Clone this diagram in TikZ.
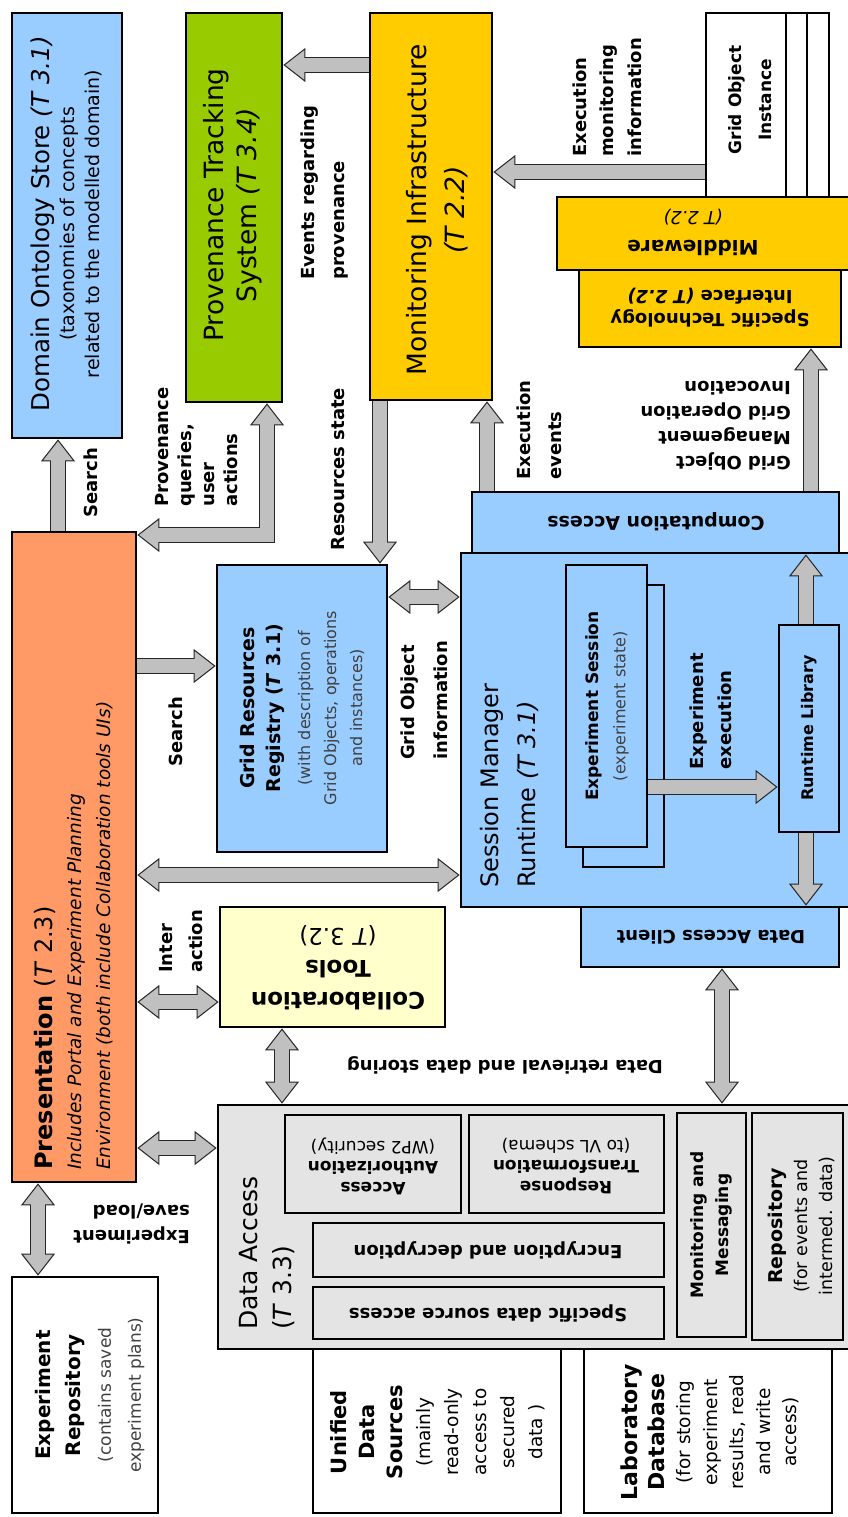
\documentclass[tikz,border=0pt]{standalone}
\usepackage{fontspec}
\setmainfont{DejaVu Sans}
\usetikzlibrary{arrows.meta}

\definecolor{skyblue}{HTML}{99CCFF}
\definecolor{leafgreen}{HTML}{99CC00}
\definecolor{gold}{HTML}{FFCC00}
\definecolor{salmon}{HTML}{FF9966}
\definecolor{cream}{HTML}{FFFFCC}
\definecolor{paleGray}{HTML}{E4E4E4}
\definecolor{arrowgray}{HTML}{C0C0C0}

\newcommand{\fsz}[2]{\fontsize{#1}{#2}\selectfont}
\newcommand{\onearrow}[1]{\draw[arrowrim,-bigtip] #1; \draw[arrowcore,shorten >=20pt] #1;}
\newcommand{\twoarrow}[1]{\draw[arrowrim,bigtip-bigtip] #1; \draw[arrowcore,shorten >=20pt,shorten <=20pt] #1;}

\tikzset{
  panel/.style={draw, line width=2.8pt, inner sep=0pt},
  riser/.style={rotate=90, inner sep=0pt},
  turned/.style={rotate=180, inner sep=0pt},
  arrowtag/.style={font=\bfseries\fsz{18}{#1}, align=left, inner sep=0pt},
  arrowtag/.default=26,
  arrowrim/.style={line width=16pt, draw=black!85, line join=miter},
  arrowcore/.style={line width=14pt, draw=arrowgray, line join=miter},
  bigtip/.tip={Triangle[width=34pt,length=22pt,line width=1pt,fill=arrowgray]}
}

\begin{document}
\begin{tikzpicture}[x=1pt,y=-1pt]
\useasboundingbox (0,0) rectangle (848,1517);
\fill[white] (0,0) rectangle (848,1517);

\node[panel,fill=skyblue,minimum width=110pt,minimum height=425pt] (dos) at (67,225.5) {};
\node[panel,fill=leafgreen,minimum width=96pt,minimum height=389pt] (pts) at (234,207.5) {};
\node[panel,fill=gold,minimum width=122pt,minimum height=387pt] (mon) at (431,206.5) {};
\node[panel,fill=white,minimum width=123pt,minimum height=184pt] (goi) at (767.5,105) {};
\draw[line width=2.8pt] (786,0 |- goi.north) -- (786,0 |- goi.south)
                        (807,0 |- goi.north) -- (807,0 |- goi.south);
\node[panel,fill=gold,minimum width=262pt,minimum height=77pt] (sti) at (710,308.5) {};
\node[panel,fill=gold,minimum width=294pt,minimum height=73pt] (mid) at (704,233.5) {};
\node[panel,fill=salmon,minimum width=124pt,minimum height=650pt] (pres) at (74,857) {};
\node[panel,fill=skyblue,minimum width=170pt,minimum height=287pt] (grr) at (302,708.5) {};
\node[panel,fill=cream,minimum width=225pt,minimum height=120pt] (collab) at (332.5,967) {};
\node[panel,fill=skyblue,minimum width=390pt,minimum height=354pt] (smr) at (656,730) {};
\node[panel,fill=skyblue,minimum width=367pt,minimum height=61pt] (ca) at (655.5,522.5) {};
\node[panel,fill=skyblue,minimum width=258pt,minimum height=60pt] (dac) at (710,937) {};
\node[panel,fill=skyblue,minimum width=81pt,minimum height=282pt] (es-back) at (623.5,726) {};
\node[panel,fill=skyblue,minimum width=81pt,minimum height=282pt] (es) at (606.5,706) {};
\node[panel,fill=skyblue,minimum width=60pt,minimum height=207pt] (rtl) at (809,728.5) {};
\node[panel,fill=paleGray,minimum width=633pt,minimum height=244pt] (da) at (534.5,1227) {};
\node[panel,fill=paleGray,minimum width=176pt,minimum height=98pt] (aa) at (373,1164) {};
\node[panel,fill=paleGray,minimum width=195pt,minimum height=98pt] (rt) at (566.5,1164) {};
\node[panel,fill=paleGray,minimum width=351pt,minimum height=54pt] (enc) at (488.5,1250) {};
\node[panel,fill=paleGray,minimum width=351pt,minimum height=52pt] (sdsa) at (488.5,1313) {};
\node[panel,fill=paleGray,minimum width=69pt,minimum height=224pt] (mm) at (711.5,1225) {};
\node[panel,fill=paleGray,minimum width=91pt,minimum height=227pt] (rep) at (797.5,1226.5) {};
\node[panel,fill=white,minimum width=146pt,minimum height=236pt] (er) at (85,1395) {};
\node[panel,fill=white,minimum width=248pt,minimum height=164pt] (uds) at (437,1431) {};
\node[panel,fill=white,minimum width=248pt,minimum height=164pt] (ldb) at (708,1431) {};

\node[riser,align=center,font=\fsz{19}{25}] (dos-t) at (66,224) {{\fsz{24.5}{27}Domain Ontology Store \textit{(T 3.1)}}\\(taxonomies of concepts\\related to the modelled domain)};
\node[riser,align=center,font=\fsz{26.5}{33}] (pts-t) at (233,205) {Provenance Tracking\\System \textit{(T 3.4)}};
\node[riser,align=center,font=\fsz{26.5}{38}] (mon-t) at (437,210) {Monitoring Infrastructure\\\textit{(T 2.2)}};
\node[riser,align=center,font=\bfseries\fsz{17}{30}] (goi-t) at (750,100) {Grid Object\\Instance};
\node[turned,align=center,font=\bfseries\fsz{20}{29}] (mid-t) at (693,232) {Middleware\\{\mdseries\itshape\fsz{18}{29}(T 2.2)}};
\node[turned,align=center,font=\bfseries\fsz{18}{23}] (sti-t) at (710,308) {Specific Technology\\Interface \textit{(T 2.2)}};
\node[riser,anchor=west,align=left,font=\itshape\fsz{18.5}{29}] (pres-t) at (74,1170) {{\upshape\bfseries\fsz{24}{29}Presentation {\mdseries(\textit{T} 2.3)}}\\Includes Portal and Experiment Planning\\Environment (both include Collaboration tools UIs)};
\node[riser,align=center,text=black!75,font=\fsz{16}{26}] (grr-t) at (302,708) {{\color{black}\bfseries\fsz{19}{27}Grid Resources}\\{\color{black}\bfseries\fsz{19}{27}Registry (\textit{T} 3.1)}\\[4pt](with description of\\Grid Objects, operations\\and instances)};
\node[turned,align=center,font=\bfseries\fsz{23}{32}] (collab-t) at (338,968) {Collaboration\\Tools\\{\mdseries(\textit{T} 3.2)}};
\node[riser,anchor=west,align=left,font=\fsz{24}{37}] (smr-t) at (509,888) {Session Manager\\Runtime \textit{(T 3.1)}};
\node[turned,font=\bfseries\fsz{19}{24}] (ca-t) at (656,522) {Computation Access};
\node[turned,font=\bfseries\fsz{18}{24}] (dac-t) at (711,937) {Data Access Client};
\node[riser,align=center,font=\fsz{16}{27}] (es-t) at (607,706) {{\bfseries\fsz{17}{27}Experiment Session}\\{\color{black!75}(experiment state)}};
\node[riser,font=\bfseries\fsz{16}{20}] (rtl-t) at (809,728) {Runtime Library};
\node[riser,anchor=west,align=left,font=\fsz{25}{34}] (da-t) at (267,1330) {Data Access\\(\textit{T} 3.3)};
\node[turned,align=center,font=\bfseries\fsz{17}{20.5}] (aa-t) at (373,1166) {Access\\Authorization\\{\mdseries(WP2 security)}};
\node[turned,align=center,font=\bfseries\fsz{17}{20.5}] (rt-t) at (566,1166) {Response\\Transformation\\{\mdseries(to VL schema)}};
\node[turned,font=\bfseries\fsz{18}{22}] (enc-t) at (488,1250) {Encryption and decryption};
\node[turned,font=\bfseries\fsz{18}{22}] (sdsa-t) at (488,1313) {Specific data source access};
\node[riser,align=center,font=\bfseries\fsz{17}{25}] (mm-t) at (711,1225) {Monitoring and\\Messaging};
\node[riser,align=center,font=\fsz{17.5}{25}] (rep-t) at (801,1226) {{\bfseries\fsz{19}{25}Repository}\\(for events and\\intermed. data)};
\node[riser,align=center,text=black!75,font=\fsz{17}{30}] (er-t) at (90,1395) {{\color{black}\bfseries\fsz{20}{30}Experiment}\\{\color{black}\bfseries\fsz{20}{30}Repository}\\(contains saved\\experiment plans)};
\node[riser,align=center,font=\fsz{18.5}{28}] (uds-t) at (438,1432) {{\bfseries\fsz{21}{28}Unified}\\{\bfseries\fsz{21}{28}Data}\\{\bfseries\fsz{21}{28}Sources}\\(mainly\\read-only\\access to\\secured\\data )};
\node[riser,align=center,font=\fsz{18.5}{26.5}] (ldb-t) at (710,1432) {{\bfseries\fsz{22}{28}Laboratory}\\{\bfseries\fsz{22}{28}Database}\\(for storing\\experiment\\results, read\\and write\\access)};

\node[riser,arrowtag] (search-a) at (91,483) {Search};
\node[riser,arrowtag=23,anchor=west] (provq) at (197,507) {Provenance\\queries,\\user\\actions};
\node[riser,arrowtag=30,anchor=west] (evprov) at (325,280) {Events regarding\\provenance};
\node[riser,arrowtag=27.5,anchor=west] (exmon) at (607,157) {Execution\\monitoring\\information};
\node[riser,arrowtag,anchor=west] (resst) at (338,551) {Resources state};
\node[riser,arrowtag=31,anchor=west] (exev) at (539,480) {Execution\\events};
\node[turned,arrowtag=25,anchor=west] (gomgmt) at (791,426) {Grid Object\\Management\\Grid Operation\\Invocation};
\node[riser,arrowtag] (search-b) at (176,732) {Search};
\node[riser,arrowtag=33,anchor=west] (goinfo) at (424,760) {Grid Object\\information};
\node[riser,arrowtag=30,anchor=west] (inter) at (181,973) {Inter\\action};
\node[riser,arrowtag=28,anchor=west] (exexec) at (711,770) {Experiment\\execution};
\node[turned,arrowtag] (retr) at (505,1065) {Data retrieval and data storing};
\node[turned,arrowtag=25,anchor=west] (saveload) at (190,1224) {Experiment\\save/load};

\onearrow{(58,0 |- pres.north) -- (58,0 |- dos.south)}
\twoarrow{(pres.east |- 0,535) -- (267,535) -- (267,0 |- pts.south)}
\onearrow{(mon.west |- 0,65) -- (pts.east |- 0,65)}
\onearrow{(goi.west |- 0,172) -- (mon.east |- 0,172)}
\onearrow{(380,0 |- mon.south) -- (380,0 |- grr.north)}
\onearrow{(487,0 |- ca.north) -- (487,0 |- mon.south)}
\onearrow{(811,0 |- ca.north) -- (811,0 |- sti.south)}
\onearrow{(pres.east |- 0,666) -- (grr.west |- 0,666)}
\twoarrow{(grr.east |- 0,597) -- (smr.west |- 0,597)}
\twoarrow{(pres.east |- 0,875) -- (smr.west |- 0,875)}
\twoarrow{(pres.east |- 0,1002) -- (collab.west |- 0,1002)}
\twoarrow{(282,0 |- collab.south) -- (282,0 |- da.north)}
\twoarrow{(722,0 |- dac.south) -- (722,0 |- da.north)}
\twoarrow{(pres.east |- 0,1148) -- (da.west |- 0,1148)}
\twoarrow{(38,0 |- pres.south) -- (38,0 |- er.north)}
\onearrow{(es.east |- 0,787) -- (rtl.west |- 0,787)}
\onearrow{(806,0 |- rtl.north) -- (806,0 |- ca.south)}
\onearrow{(806,0 |- rtl.south) -- (806,0 |- dac.north)}
\end{tikzpicture}
\end{document}
